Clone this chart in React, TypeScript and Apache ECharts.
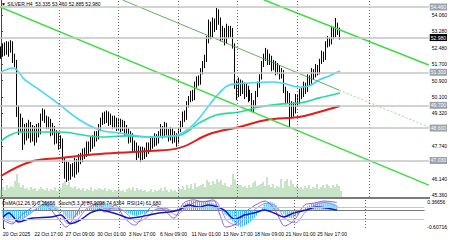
import React, { useEffect, useRef } from "react";
import * as echarts from "echarts";

// ---- price data (4h bars, index 0..170) ----
const firstOpen = 52.3;
const closes = [
  52.14, 52.48, 52.28, 52.62, 52.38, 52.67, 52.0, 51.8, 49.47, 48.75,
  48.99, 48.02, 48.6, 48.26, 48.75, 48.12, 48.51, 48.02, 48.6, 48.41,
  49.09, 49.38, 49.09, 48.75, 48.9, 48.41, 48.6, 48.02, 48.26, 47.78,
  48.02, 47.05, 46.33, 46.81, 46.18, 46.67, 46.47, 46.96, 46.57, 47.15,
  47.05, 47.44, 47.3, 47.78, 47.54, 48.02, 47.78, 48.26, 48.12, 48.6,
  48.9, 49.18, 48.99, 49.28, 48.9, 49.09, 48.75, 48.99, 48.65, 48.9,
  48.6, 48.8, 48.41, 48.51, 48.02, 48.26, 47.64, 47.78, 47.3, 47.54,
  47.15, 47.54, 47.3, 47.73, 47.54, 48.02, 47.78, 48.12, 47.93, 48.26,
  48.6, 48.26, 48.75, 48.41, 48.12, 48.51, 48.02, 48.22, 47.93, 48.51,
  48.75, 49.23, 49.09, 49.72, 49.96, 50.2, 50.06, 50.68, 50.93, 50.83,
  51.31, 51.65, 51.89, 52.86, 53.59, 53.1, 53.73, 53.44, 54.22, 53.83,
  52.96, 53.35, 52.77, 53.44, 53.1, 53.35, 52.62, 50.68, 50.2, 50.83,
  50.35, 50.68, 50.2, 50.54, 50.06, 50.2, 49.57, 49.77, 50.2, 50.68,
  51.02, 51.65, 51.99, 52.28, 51.8, 51.99, 51.51, 51.7, 51.31, 51.51,
  51.12, 51.31, 50.44, 49.96, 50.2, 49.23, 49.72, 49.38, 50.06, 49.86,
  50.35, 50.2, 50.68, 50.44, 51.02, 50.83, 51.31, 51.17, 51.51, 51.31,
  51.8, 52.14, 51.99, 52.62, 52.86, 52.77, 53.35, 53.1, 53.59, 53.335,
  52.98,
];
const highs = [
  52.55, 52.7, 52.75, 52.8, 52.78, 52.85, 52.8, 52.2, 51.9, 49.7,
  49.3, 49.1, 48.8, 48.85, 49.0, 48.9, 48.75, 48.7, 48.8, 48.85,
  49.3, 49.55, 49.5, 49.2, 49.15, 49.05, 48.85, 48.7, 48.5, 48.4,
  48.25, 48.1, 47.2, 47.0, 46.95, 46.85, 46.9, 47.15, 47.1, 47.35,
  47.4, 47.6, 47.65, 47.95, 47.95, 48.2, 48.25, 48.45, 48.45, 48.8,
  49.1, 49.35, 49.4, 49.45, 49.4, 49.3, 49.2, 49.2, 49.1, 49.1,
  49.05, 49.0, 48.95, 48.75, 48.6, 48.45, 48.35, 48.0, 47.9, 47.75,
  47.7, 47.7, 47.65, 47.9, 47.9, 48.2, 48.15, 48.35, 48.3, 48.45,
  48.8, 48.7, 48.9, 48.85, 48.55, 48.65, 48.6, 48.45, 48.35, 48.65,
  48.95, 49.4, 49.45, 49.9, 50.15, 50.4, 50.45, 50.85, 51.1, 51.15,
  51.5, 51.85, 52.15, 53.05, 53.85, 53.75, 53.95, 53.9, 54.41, 54.35,
  53.95, 53.55, 53.45, 53.65, 53.55, 53.55, 53.45, 52.7, 50.9, 51.05,
  50.95, 50.9, 50.8, 50.75, 50.65, 50.45, 50.3, 49.95, 50.4, 50.85,
  51.2, 51.85, 52.2, 52.48, 52.4, 52.2, 52.1, 51.9, 51.85, 51.75,
  51.65, 51.5, 51.4, 50.6, 50.4, 50.3, 49.9, 49.85, 50.25, 50.2,
  50.5, 50.55, 50.85, 50.8, 51.2, 51.15, 51.5, 51.45, 51.7, 51.65,
  51.95, 52.35, 52.3, 52.8, 53.05, 53.0, 53.55, 53.5, 53.93, 53.7,
  53.46,
];
const lows = [
  51.95, 52.05, 52.1, 52.15, 52.05, 52.25, 51.75, 51.55, 49.14, 48.26,
  48.4, 47.54, 47.8, 48.0, 48.1, 47.9, 47.95, 47.75, 47.9, 48.15,
  48.3, 48.95, 48.85, 48.55, 48.55, 48.2, 48.25, 47.8, 47.85, 47.55,
  47.6, 46.9, 46.15, 45.99, 46.05, 46.1, 46.25, 46.2, 46.35, 46.45,
  46.85, 46.95, 47.1, 47.2, 47.35, 47.45, 47.6, 47.7, 47.95, 48.05,
  48.45, 48.75, 48.8, 48.85, 48.7, 48.75, 48.55, 48.6, 48.45, 48.5,
  48.4, 48.45, 48.2, 48.25, 47.85, 47.9, 47.45, 47.45, 47.05, 47.15,
  46.95, 47.05, 47.1, 47.2, 47.35, 47.45, 47.6, 47.7, 47.75, 47.85,
  48.15, 48.1, 48.2, 48.25, 47.95, 48.0, 47.85, 47.9, 47.7, 47.85,
  48.4, 48.65, 48.9, 49.0, 49.6, 49.85, 49.9, 49.95, 50.55, 50.65,
  50.7, 51.2, 51.5, 51.8, 52.7, 52.9, 53.0, 53.25, 53.35, 53.6,
  52.8, 52.85, 52.6, 52.7, 52.95, 53.0, 52.45, 50.5, 49.95, 50.1,
  50.15, 50.25, 50.0, 50.1, 49.85, 49.9, 49.4, 49.33, 49.65, 50.1,
  50.55, 50.95, 51.55, 51.85, 51.65, 51.65, 51.35, 51.4, 51.15, 51.2,
  50.95, 51.0, 50.3, 49.75, 49.8, 48.65, 49.05, 49.15, 49.3, 49.65,
  49.75, 50.0, 50.1, 50.25, 50.35, 50.65, 50.75, 50.95, 51.05, 51.15,
  51.2, 51.7, 51.8, 51.9, 52.5, 52.55, 52.65, 52.9, 53.0, 53.1,
  52.885,
];
const volumes = [
  8, 10, 7, 12, 9, 11, 10, 16, 23, 14,
  10, 12, 8, 9, 7, 10, 8, 9, 6, 8,
  10, 8, 7, 9, 6, 8, 7, 10, 6, 8,
  9, 14, 16, 12, 15, 10, 9, 11, 8, 9,
  7, 9, 6, 8, 7, 10, 6, 8, 7, 9,
  8, 7, 9, 6, 8, 7, 5, 7, 6, 8,
  6, 7, 5, 8, 9, 7, 10, 6, 9, 7,
  8, 6, 7, 5, 6, 8, 5, 7, 6, 7,
  9, 6, 10, 7, 5, 8, 6, 7, 5, 9,
  8, 11, 7, 12, 9, 13, 8, 14, 10, 11,
  12, 13, 10, 17, 15, 12, 16, 13, 18, 15,
  17, 12, 14, 11, 10, 12, 23, 18, 13, 12,
  12, 10, 11, 9, 12, 10, 14, 16, 11, 12,
  13, 15, 11, 20, 12, 10, 13, 9, 11, 10,
  18, 9, 16, 18, 11, 17, 13, 10, 12, 9,
  10, 8, 11, 9, 12, 8, 10, 9, 13, 8,
  10, 12, 9, 13, 11, 9, 12, 10, 13, 11,
  6,
];
const osma = [
  -0.2, -0.25, -0.3, -0.3, -0.28, -0.25, -0.3, -0.35, -0.4, -0.35,
  -0.3, -0.25, -0.2, -0.15, -0.1, -0.05, 0.02, 0.08, 0.12, 0.16,
  0.2, 0.24, 0.26, 0.27, 0.25, 0.22, 0.18, 0.12, 0.06, 0.0,
  -0.08, -0.15, -0.22, -0.28, -0.3, -0.3, -0.28, -0.25, -0.2, -0.15,
  -0.1, -0.05, 0.0, 0.05, 0.1, 0.15, 0.2, 0.24, 0.26, 0.28,
  0.28, 0.27, 0.25, 0.22, 0.2, 0.17, 0.14, 0.1, 0.07, 0.05,
  0.02, 0.0, -0.04, -0.08, -0.12, -0.15, -0.18, -0.2, -0.2, -0.18,
  -0.16, -0.14, -0.12, -0.1, -0.07, -0.04, -0.02, 0.0, 0.03, 0.05,
  0.07, 0.08, 0.08, 0.06, 0.04, 0.02, 0.0, 0.0, 0.02, 0.05,
  0.1, 0.14, 0.18, 0.22, 0.25, 0.28, 0.3, 0.3, 0.3, 0.28,
  0.27, 0.26, 0.26, 0.28, 0.3, 0.28, 0.25, 0.22, 0.2, 0.15,
  0.08, 0.0, -0.08, -0.15, -0.2, -0.25, -0.32, -0.4, -0.46, -0.5,
  -0.55, -0.57, -0.56, -0.53, -0.5, -0.45, -0.4, -0.34, -0.27, -0.2,
  -0.1, 0.0, 0.1, 0.18, 0.24, 0.27, 0.28, 0.26, 0.22, 0.16,
  0.08, 0.0, -0.08, -0.15, -0.2, -0.25, -0.27, -0.28, -0.26, -0.22,
  -0.16, -0.1, -0.04, 0.02, 0.08, 0.12, 0.16, 0.2, 0.22, 0.24,
  0.25, 0.26, 0.27, 0.28, 0.28, 0.27, 0.26, 0.25, 0.22, 0.2,
  0.16,
];
// [bar index, value] pairs
const maFast = [
  [0, 51.31], [6, 51.51], [12, 50.93], [19.5, 50.44], [29.5, 49.72], [39.5, 48.99],
  [49.5, 48.51], [59.5, 48.36], [74.5, 48.17], [87, 48.22], [94.5, 48.6], [99.5, 49.09],
  [104.5, 49.72], [109.5, 50.3], [114.5, 50.68], [124.5, 50.78], [136, 50.83], [141, 50.78],
  [149.5, 50.59], [154.5, 50.64], [159.5, 50.93], [164.5, 51.12], [170, 51.36],
];
const maMid = [
  [0, 47.97], [4.5, 48.26], [9.5, 48.41], [29.5, 48.41], [49.5, 48.17], [63, 48.22],
  [74.5, 48.17], [89.5, 48.26], [99.5, 48.85], [108, 49.23], [119.5, 49.38], [129.5, 49.62],
  [141, 49.77], [149.5, 49.81], [159.5, 50.06], [170, 50.3],
];
const maSlow = [
  [0, 46.28], [14.5, 46.96], [29.5, 47.15], [49.5, 47.35], [74.5, 47.49], [89.5, 47.64],
  [104.5, 48.31], [119.5, 48.65], [133, 48.99], [149.5, 49.14], [159.5, 49.38], [170, 49.67],
];
const rsi = [
  [0, 38], [3, 52], [8, 21], [14.5, 34], [24.5, 38], [29.5, 45], [34.5, 15], [39.5, 28],
  [44.5, 52], [49.5, 62], [54.5, 55], [59.5, 45], [64.5, 34], [69.5, 38], [74.5, 45],
  [79.5, 52], [84.5, 55], [89.5, 62], [94.5, 79], [99.5, 72], [104.5, 79], [109.5, 72],
  [113, 60], [118, 30], [123, 45], [128, 52], [133, 62], [138, 52], [143, 38], [148, 52],
  [154.5, 62], [159.5, 72], [164.5, 69], [170, 61.68],
];
const stochMain = [
  [0, 28], [4.5, 14], [9.5, 45], [14.5, 69], [19.5, 93], [24.5, 62], [29.5, 21], [32, 3],
  [37, 45], [42, 90], [47, 79], [52, 55], [57, 79], [62, 34], [67, 10], [72, 45], [77, 79],
  [82, 62], [87, 34], [92, 86], [97, 97], [102, 90], [107, 97], [110.5, 45], [113.5, 3],
  [118.5, 14], [123.5, 55], [128.5, 79], [133.5, 93], [138.5, 62], [143.5, 7], [148.5, 28],
  [153.5, 79], [158.5, 86], [163.5, 93], [170, 87.9],
];
const stochSignal = [
  [0, 35], [5, 20], [10, 32], [15, 55], [20, 78], [25, 75], [30, 40], [33, 15], [38, 30],
  [43, 70], [48, 82], [53, 65], [58, 70], [63, 50], [68, 20], [73, 35], [78, 65], [83, 68],
  [88, 45], [93, 68], [98, 90], [103, 92], [108, 93], [111, 65], [114, 25], [119, 10],
  [124, 40], [129, 68], [134, 85], [139, 75], [144, 30], [149, 18], [154, 55], [159, 80],
  [164, 88], [170, 74.6],
];
// trend lines: [index, price] end points
const channelLower = [[-0.5, 54.46], [214.5, 45.84]];
const channelUpper = [[132, 54.799], [214.5, 51.65]];
const trendThin = [[61, 54.799], [169.5, 50.44]];
const trendDotted = [[169.5, 50.44], [214.5, 48.65]];

const levels = [54.46, 51.3, 49.7, 48.6, 47.03];
const currentPrice = 52.98;
const priceTicks = [54.06, 53.28, 52.48, 51.7, 50.9, 50.1, 49.32, 47.74, 46.14, 45.36];
const osmaTicks = [0.36656, -0.60716];
const timeTickIdx = [0, 16, 32, 48, 64, 80, 96, 112, 128, 144, 160];
const timeLabels = [
  "20 Oct 2025", "22 Oct 17:00", "27 Oct 09:00", "30 Oct 01:00", "3 Nov 17:00",
  "6 Nov 09:00", "11 Nov 01:00", "13 Nov 17:00", "18 Nov 09:00", "21 Nov 01:00", "25 Nov 17:00",
];
const vGrid = [29, 59, 89, 118.5, 148.5, 184.5];

const FONT = "Liberation Sans";

export default function App() {
  const ref = useRef<HTMLDivElement>(null);
  useEffect(() => {
    const chart = echarts.init(ref.current!, null, { renderer: "svg" });
    const candles = closes.map((c, i) => [i, i === 0 ? firstOpen : closes[i - 1], c, lows[i], highs[i]]);
    const vLines = {
      silent: true,
      symbol: ["none", "none"],
      label: { show: false },
      lineStyle: { color: "#6a6a6a", type: [1, 2], width: 1 },
      data: vGrid.map((v) => ({ xAxis: v })),
    };
    const lineS = (data: number[][], color: string, width: number, extra: any = {}) => ({
      type: "line",
      xAxisIndex: 0,
      yAxisIndex: 0,
      data,
      symbol: "none",
      silent: true,
      lineStyle: { color, width, ...(extra.lineStyle || {}) },
      smooth: extra.smooth ?? false,
      z: extra.z ?? 3,
    });
    const xBase = (g: number) => ({
      type: "value",
      gridIndex: g,
      min: -0.5,
      max: 214.5,
      show: g === 2,
      splitLine: { show: false },
      axisLine: { show: true, lineStyle: { color: "#777", width: 1 } },
      axisTick: { show: false },
      axisLabel:
        g === 2
          ? {
              customValues: timeTickIdx,
              formatter: (v: number) => timeLabels[Math.round(v / 16)] ?? "",
              fontSize: 5,
              fontFamily: FONT,
              color: "#000",
              align: "left",
              margin: 3,
            }
          : { show: false },
    });
    const option: any = {
      animation: false,
      backgroundColor: "#fff",
      textStyle: { fontFamily: FONT },
      grid: [
        { left: 0, width: 430, top: 0, height: 197 },
        { left: 0, width: 430, top: 170, height: 27 },
        { left: 0, width: 430, top: 199, height: 29 },
      ],
      xAxis: [xBase(0), xBase(1), xBase(2)],
      yAxis: [
        {
          type: "value",
          gridIndex: 0,
          position: "right",
          min: 45.263,
          max: 54.799,
          splitLine: { show: false },
          axisLine: { show: true, lineStyle: { color: "#444", width: 1 } },
          axisTick: { show: true, length: 2, customValues: priceTicks, lineStyle: { color: "#444" } },
          axisLabel: {
            customValues: priceTicks,
            formatter: (v: number) => v.toFixed(3),
            fontSize: 5,
            fontFamily: FONT,
            color: "#000",
            margin: 3,
          },
        },
        { type: "value", gridIndex: 1, min: 0, max: 27, show: false, splitLine: { show: false } },
        {
          type: "value",
          gridIndex: 2,
          position: "right",
          min: -0.60716,
          max: 0.36656,
          splitLine: { show: false },
          axisLine: { show: true, lineStyle: { color: "#444", width: 1 } },
          axisTick: { show: true, length: 2, customValues: osmaTicks, lineStyle: { color: "#444" } },
          axisLabel: {
            customValues: osmaTicks,
            formatter: (v: number) => (v > 0 ? "{t|" + v.toFixed(5) + "}" : "{b|" + v.toFixed(5) + "}"),
            fontSize: 5,
            fontFamily: FONT,
            color: "#000",
            margin: 3,
            rich: {
              t: { fontSize: 5, fontFamily: FONT, color: "#000", padding: [5, 0, 0, 0] },
              b: { fontSize: 5, fontFamily: FONT, color: "#000", padding: [0, 0, 2, 0] },
            },
          },
        },
        { type: "value", gridIndex: 2, min: 0, max: 100, show: false, splitLine: { show: false } },
      ],
      graphic: [
        {
          type: "text",
          left: 1,
          top: 1,
          style: { text: "▼ SILVER,H4  53.335 53.460 52.885 52.980", fontSize: 5, fontFamily: FONT, fill: "#000" },
          z: 10,
        },
        { type: "rect", shape: { x: 0, y: 197, width: 430, height: 2 }, style: { fill: "#7a7a7a" }, z: 10 },
        {
          type: "text",
          left: 2,
          top: 200.5,
          style: {
            text: "OsMA(12,26,9) 0.15656  Stoch(5,3,3) 87.9098 74.6354  RSI(14) 61.680",
            fontSize: 5,
            fontFamily: FONT,
            fill: "#000",
          },
          z: 10,
        },
      ],
      series: [
        {
          type: "bar",
          xAxisIndex: 1,
          yAxisIndex: 1,
          data: volumes.map((v, i) => [i, v]),
          barWidth: 1,
          itemStyle: { color: "#8fc98f" },
          silent: true,
          z: 1,
        },
        {
          type: "candlestick",
          xAxisIndex: 0,
          yAxisIndex: 0,
          data: candles,
          barWidth: 1,
          silent: true,
          z: 2,
          itemStyle: { color: "#000", color0: "#000", borderColor: "#000", borderColor0: "#000", borderWidth: 1 },
          markLine: {
            silent: true,
            symbol: ["none", "none"],
            data: [
              ...vGrid.map((v) => ({
                xAxis: v,
                label: { show: false },
                lineStyle: { color: "#6a6a6a", type: [1, 2], width: 1 },
              })),
              ...levels.map((v) => ({
                yAxis: v,
                lineStyle: { color: "#c4c4c4", width: 1.5, type: "solid" },
                label: {
                  show: true,
                  position: "end",
                  distance: 1,
                  formatter: v.toFixed(3),
                  fontSize: 5,
                  fontFamily: FONT,
                  color: "#fff",
                  backgroundColor: "#9aa3ad",
                  padding: [1, 1],
                },
              })),
              {
                yAxis: currentPrice,
                lineStyle: { color: "#c4c4c4", width: 1.5, type: "solid" },
                label: {
                  show: true,
                  position: "end",
                  distance: 1,
                  formatter: currentPrice.toFixed(3),
                  fontSize: 5,
                  fontFamily: FONT,
                  color: "#fff",
                  backgroundColor: "#000",
                  padding: [1, 1],
                },
              },
            ],
          },
        },
        lineS(maSlow, "#e41b1b", 2, { smooth: 0.4 }),
        lineS(maMid, "#22dd99", 1.6, { smooth: 0.4 }),
        lineS(maFast, "#44d8f0", 1.6, { smooth: 0.4 }),
        lineS(channelLower, "#3fdc3f", 1.5),
        lineS(channelUpper, "#3fdc3f", 1.5),
        lineS(trendThin, "#3a9a3a", 0.8),
        lineS(trendDotted, "#8fe38f", 1, { lineStyle: { type: [2, 2] } }),
        {
          type: "bar",
          xAxisIndex: 2,
          yAxisIndex: 2,
          data: osma.map((v, i) => [i, v]),
          barWidth: 1,
          itemStyle: { color: "#2bb8f2" },
          silent: true,
          z: 1,
          markLine: vLines,
        },
        {
          type: "line",
          xAxisIndex: 2,
          yAxisIndex: 3,
          data: stochSignal,
          symbol: "none",
          silent: true,
          smooth: 0.3,
          lineStyle: { color: "#a78bdf", width: 1 },
          z: 3,
        },
        {
          type: "line",
          xAxisIndex: 2,
          yAxisIndex: 3,
          data: stochMain,
          symbol: "none",
          silent: true,
          smooth: 0.3,
          lineStyle: { color: "#8a63d2", width: 1 },
          z: 3,
        },
        {
          type: "line",
          xAxisIndex: 2,
          yAxisIndex: 3,
          data: rsi,
          symbol: "none",
          silent: true,
          smooth: 0.3,
          lineStyle: { color: "#1515c8", width: 1.5 },
          z: 4,
          markLine: {
            silent: true,
            symbol: ["none", "none"],
            label: { show: false },
            lineStyle: { color: "#c4c4c4", width: 1, type: "solid" },
            data: [{ yAxis: 70 }, { yAxis: 30 }],
          },
        },
      ],
    };
    chart.setOption(option);
    return () => chart.dispose();
  }, []);
  return <div ref={ref} style={{ position: "fixed", left: 0, top: 0, width: 450, height: 240 }} />;
}
